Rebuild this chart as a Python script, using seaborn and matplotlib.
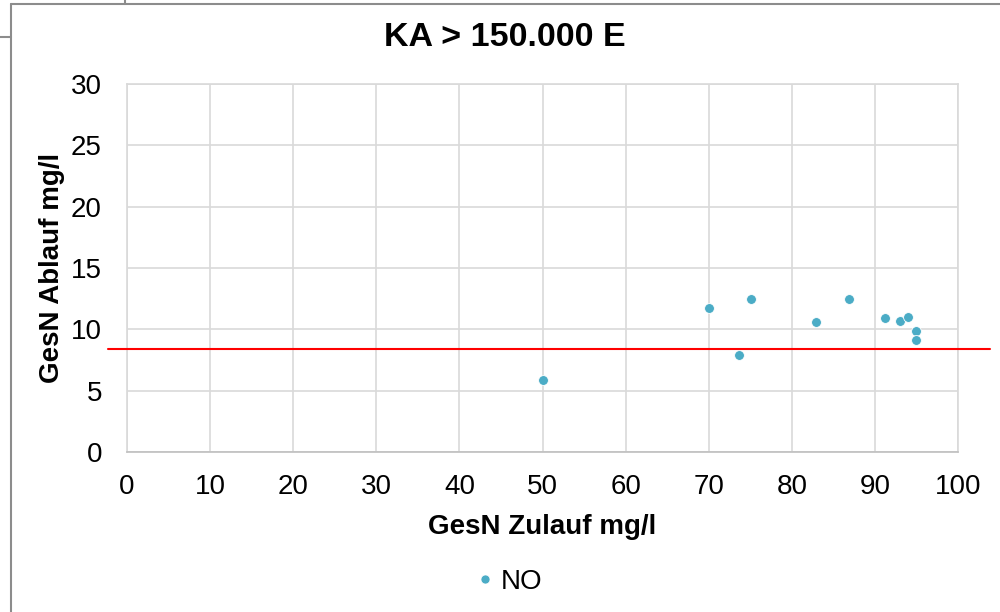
import matplotlib
matplotlib.use("Agg")
import matplotlib.pyplot as plt
import seaborn as sns
import pandas as pd
from matplotlib.lines import Line2D

# Data
zulauf = [50.0, 70.0, 73.6, 75.1, 82.9, 86.9, 91.25, 93.0, 94.0, 94.9, 94.9]
ablauf = [5.87, 11.76, 7.9, 12.47, 10.57, 12.47, 10.92, 10.7, 11.03, 9.89, 9.1]
series_name = "NO"
grenzwert = 8.4
x_ticks = [0, 10, 20, 30, 40, 50, 60, 70, 80, 90, 100]
y_ticks = [0, 5, 10, 15, 20, 25, 30]
title = "KA > 150.000 E"
xlabel = "GesN Zulauf mg/l"
ylabel = "GesN Ablauf mg/l"

sns.set_theme(style="white")
plt.rcParams['font.family'] = ['Liberation Sans', 'DejaVu Sans']
plt.rcParams['text.color'] = 'black'
plt.rcParams['axes.labelcolor'] = 'black'
plt.rcParams['xtick.color'] = 'black'
plt.rcParams['ytick.color'] = 'black'

df = pd.DataFrame({"x": zulauf, "y": ablauf, "s": series_name})

fig = plt.figure(figsize=(10, 6.12), dpi=100)
ax = fig.add_axes([0.127, 0.2614, 0.831, 0.6013])

color = "#4bacc6"
sns.scatterplot(data=df, x="x", y="y", ax=ax, color=color, s=50,
                edgecolor="white", linewidth=0.6, legend=False, zorder=3)

ax.set_xlim(0, 100)
ax.set_ylim(0, 30)
ax.set_xticks(x_ticks)
ax.set_yticks(y_ticks)
ax.grid(True, color="#d9d9d9", linewidth=1.2)
ax.set_axisbelow(True)
for side in ["top", "right", "left"]:
    ax.spines[side].set_color("#d9d9d9")
    ax.spines[side].set_linewidth(1.2)
ax.spines["bottom"].set_color("#bfbfbf")
ax.spines["bottom"].set_linewidth(1.2)
ax.tick_params(axis="both", labelsize=20, colors="black", length=0)
ax.tick_params(axis="x", pad=16)
ax.tick_params(axis="y", pad=18)

ax.set_xlabel(xlabel, fontsize=20, fontweight="bold", labelpad=10, color="black")
ax.set_ylabel(ylabel, fontsize=20, fontweight="bold", labelpad=4, color="black")
fig.suptitle(title, x=0.505, y=1 - 37.5/612, va="center", fontsize=24.5,
             fontweight="bold", color="black")

# red threshold line extending beyond plot area
ax.plot([-2.3, 103.9], [grenzwert, grenzwert], color="#ff0000", linewidth=1.5,
        clip_on=False, zorder=4)

# legend
handle = Line2D([], [], marker="o", linestyle="none", color=color,
                markersize=6.5, markeredgecolor="white", markeredgewidth=0.5)
fig.legend([handle], [series_name], loc="center", bbox_to_anchor=(0.507, 0.049),
           frameon=False, fontsize=20, handletextpad=0.05, handlelength=1.0,
           labelcolor="black")

# outer screenshot borders
border = "#8c8c8c"
fig.add_artist(Line2D([0.011, 1.0], [1 - 4/612, 1 - 4/612], color=border, lw=1.5,
                      transform=fig.transFigure))
fig.add_artist(Line2D([0.011, 0.011], [0, 1 - 4/612], color=border, lw=1.5,
                      transform=fig.transFigure))
fig.add_artist(Line2D([0.0, 0.011], [1 - 37/612, 1 - 37/612], color=border, lw=1.5,
                      transform=fig.transFigure))
fig.add_artist(Line2D([0.125, 0.125], [1 - 4/612, 1.0], color=border, lw=1.5,
                      transform=fig.transFigure))

fig.savefig("out.png", dpi=100)
